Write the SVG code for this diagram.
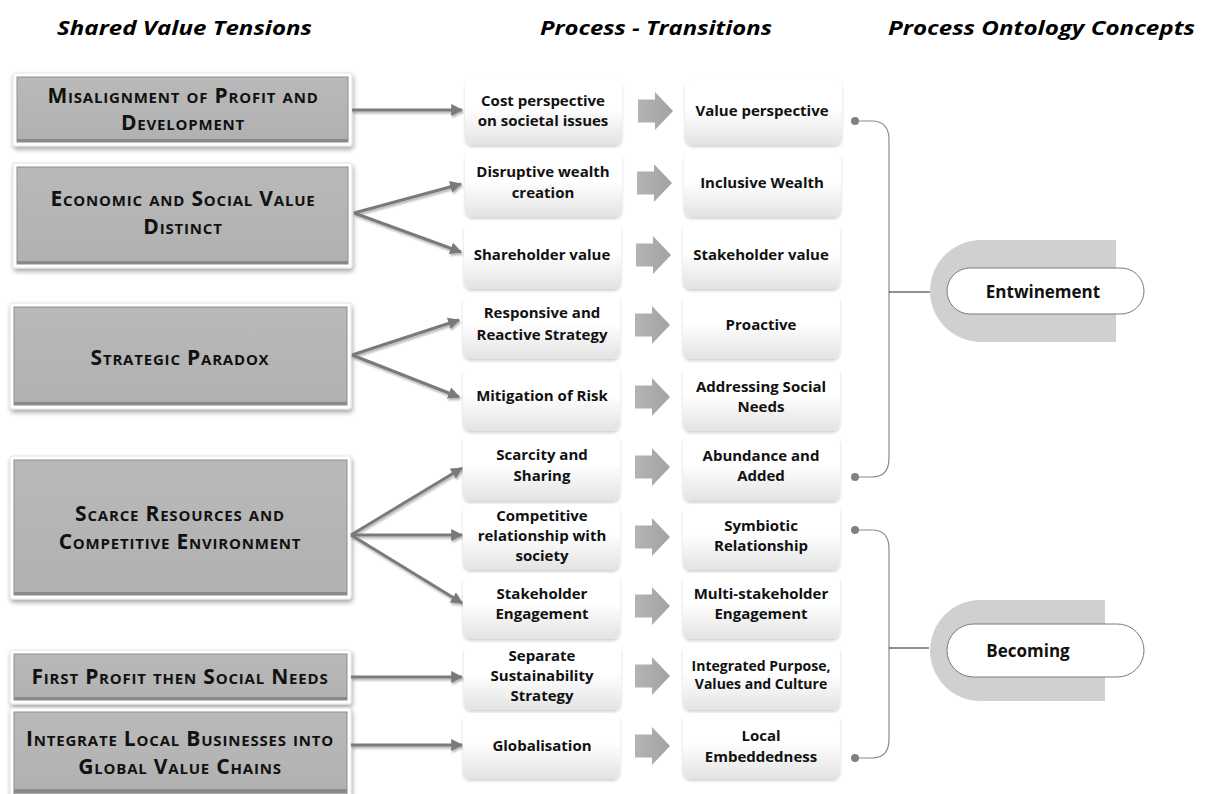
<svg xmlns="http://www.w3.org/2000/svg" width="1207" height="794" viewBox="0 0 1207 794">
  <defs>
    <filter id="boxShadow" x="-10%" y="-20%" width="120%" height="150%">
      <feGaussianBlur in="SourceAlpha" stdDeviation="2.5"/>
      <feOffset dx="1" dy="3" result="b"/>
      <feComponentTransfer><feFuncA type="linear" slope="0.35"/></feComponentTransfer>
      <feMerge><feMergeNode/><feMergeNode in="SourceGraphic"/></feMerge>
    </filter>
    <filter id="softShadow" x="-10%" y="-20%" width="120%" height="150%">
      <feGaussianBlur in="SourceAlpha" stdDeviation="1.5"/>
      <feOffset dx="0" dy="2" result="b"/>
      <feComponentTransfer><feFuncA type="linear" slope="0.18"/></feComponentTransfer>
      <feMerge><feMergeNode/><feMergeNode in="SourceGraphic"/></feMerge>
    </filter>
    <filter id="lineShadow" x="-10%" y="-50%" width="120%" height="200%">
      <feGaussianBlur in="SourceAlpha" stdDeviation="1.2"/>
      <feOffset dx="1" dy="2" result="b"/>
      <feComponentTransfer><feFuncA type="linear" slope="0.3"/></feComponentTransfer>
      <feMerge><feMergeNode/><feMergeNode in="SourceGraphic"/></feMerge>
    </filter>
    <linearGradient id="stepFill" x1="0" y1="0" x2="0" y2="1">
      <stop offset="0" stop-color="#ffffff"/>
      <stop offset="0.45" stop-color="#ffffff"/>
      <stop offset="1" stop-color="#e3e3e3"/>
    </linearGradient>
    <linearGradient id="tensionFill" x1="0" y1="0" x2="0" y2="1">
      <stop offset="0" stop-color="#b9b9b9"/>
      <stop offset="1" stop-color="#b1b1b1"/>
    </linearGradient>
    <linearGradient id="blockArrowFill" x1="0" y1="0" x2="1" y2="0">
      <stop offset="0" stop-color="#b4b4b4"/>
      <stop offset="1" stop-color="#a2a2a2"/>
    </linearGradient>
    <marker id="arrowHead" viewBox="0 0 10 10" refX="9" refY="5" markerWidth="4" markerHeight="4" orient="auto" markerUnits="strokeWidth">
      <path d="M0,0 L10,5 L0,10 z" fill="#7a7a7a"/>
    </marker>
    <path id="blockArrow" d="M0,-11.5 H17 V-19 L35,0 L17,19 V11.5 H0 Z" fill="url(#blockArrowFill)"/>
  </defs>
  <style>
    .hdr { font-family: "Open Sans", Lato, sans-serif; font-weight: bold; font-style: italic; font-size: 20px; fill: #000; }
    .tension-frame { fill: #ffffff; stroke: #e4e4e4; stroke-width: 1; }
    .tension-body { fill: url(#tensionFill); stroke: #8e8e8e; stroke-width: 1; }
    .tension-bevel { fill: #8a8a8a; }
    .tension-text { font-family: "Open Sans", Lato, sans-serif; font-weight: bold; font-size: 21px; letter-spacing: 0.8px; font-variant: small-caps; fill: #111; text-anchor: middle; }
    .step { fill: url(#stepFill); }
    .step-text { font-family: "Open Sans", Lato, sans-serif; font-weight: bold; font-size: 15px; fill: #111; text-anchor: middle; }
    .step-text.small { font-size: 14px; }
    .link { stroke: #7a7a7a; stroke-width: 3; fill: none; marker-end: url(#arrowHead); }
    .brace { stroke: #8a8a8a; stroke-width: 1.2; fill: none; }
    .tick { stroke: #222; stroke-width: 1.2; }
    .dot { fill: #808080; }
    .concept-back { fill: #d1d0d1; }
    .concept-pill { fill: #ffffff; stroke: #7a7a7a; stroke-width: 1; }
    .concept-text { font-family: "Open Sans", Lato, sans-serif; font-weight: bold; font-size: 17px; fill: #111; text-anchor: middle; }
  </style>

  <!-- column headings -->
  <g id="headings">
    <text class="hdr" x="57" y="35" textLength="255" lengthAdjust="spacingAndGlyphs">Shared Value Tensions</text>
    <text class="hdr" x="540" y="35" textLength="232" lengthAdjust="spacingAndGlyphs">Process - Transitions</text>
    <text class="hdr" x="888" y="35" textLength="307" lengthAdjust="spacingAndGlyphs">Process Ontology Concepts</text>
  </g>

  <!-- tension boxes -->
  <g id="tension-1" filter="url(#boxShadow)">
    <rect class="tension-frame" x="13" y="73" width="339" height="73" rx="2"/>
    <rect class="tension-body" x="17" y="77" width="331" height="65"/>
    <rect class="tension-bevel" x="17" y="139" width="331" height="3"/>
  </g>
  <g id="tension-1-label">
    <text class="tension-text" x="183" y="103">Misalignment of Profit and</text>
    <text class="tension-text" x="183" y="130">Development</text>
  </g>

  <g id="tension-2" filter="url(#boxShadow)">
    <rect class="tension-frame" x="13" y="163" width="339" height="105" rx="2"/>
    <rect class="tension-body" x="17" y="167" width="331" height="97"/>
    <rect class="tension-bevel" x="17" y="261" width="331" height="3"/>
  </g>
  <g id="tension-2-label">
    <text class="tension-text" x="183" y="206">Economic and Social Value</text>
    <text class="tension-text" x="183" y="234">Distinct</text>
  </g>

  <g id="tension-3" filter="url(#boxShadow)">
    <rect class="tension-frame" x="10" y="303" width="341" height="106" rx="2"/>
    <rect class="tension-body" x="14" y="307" width="333" height="98"/>
    <rect class="tension-bevel" x="14" y="402" width="333" height="3"/>
  </g>
  <g id="tension-3-label">
    <text class="tension-text" x="180" y="365">Strategic Paradox</text>
  </g>

  <g id="tension-4" filter="url(#boxShadow)">
    <rect class="tension-frame" x="10" y="456" width="341" height="143" rx="2"/>
    <rect class="tension-body" x="14" y="460" width="333" height="135"/>
    <rect class="tension-bevel" x="14" y="592" width="333" height="3"/>
  </g>
  <g id="tension-4-label">
    <text class="tension-text" x="180" y="521">Scarce Resources and</text>
    <text class="tension-text" x="180" y="549">Competitive  Environment</text>
  </g>

  <g id="tension-5" filter="url(#boxShadow)">
    <rect class="tension-frame" x="10" y="650" width="341" height="54" rx="2"/>
    <rect class="tension-body" x="14" y="654" width="333" height="46"/>
    <rect class="tension-bevel" x="14" y="697" width="333" height="3"/>
  </g>
  <g id="tension-5-label">
    <text class="tension-text" x="180" y="684">First Profit then Social Needs</text>
  </g>

  <g id="tension-6" filter="url(#boxShadow)">
    <rect class="tension-frame" x="10" y="708" width="341" height="92" rx="2"/>
    <rect class="tension-body" x="14" y="712" width="333" height="84"/>
    <rect class="tension-bevel" x="14" y="789" width="333" height="4"/>
  </g>
  <g id="tension-6-label">
    <text class="tension-text" x="180" y="746">Integrate Local Businesses into</text>
    <text class="tension-text" x="180" y="774">Global Value Chains</text>
  </g>

  <!-- connectors from tensions to transitions -->
  <g id="connectors" filter="url(#lineShadow)">
    <line class="link" x1="352" y1="110" x2="462" y2="110"/>
    <line class="link" x1="354" y1="213" x2="461" y2="184"/>
    <line class="link" x1="354" y1="213" x2="461" y2="252"/>
    <line class="link" x1="352" y1="355" x2="459" y2="320"/>
    <line class="link" x1="352" y1="355" x2="459" y2="397"/>
    <line class="link" x1="351" y1="535" x2="462" y2="468"/>
    <line class="link" x1="351" y1="535" x2="462" y2="535"/>
    <line class="link" x1="351" y1="535" x2="462" y2="603"/>
    <line class="link" x1="351" y1="677" x2="462" y2="677"/>
    <line class="link" x1="351" y1="745" x2="462" y2="745"/>
  </g>

  <!-- transition rows: from-state, block arrow, to-state -->
  <g id="row-1">
    <rect class="step" x="465" y="79" width="157" height="66" rx="8" filter="url(#softShadow)"/>
    <text class="step-text" x="543" y="106">Cost perspective</text>
    <text class="step-text" x="543" y="126">on societal issues</text>
    <use href="#blockArrow" x="638" y="111"/>
    <rect class="step" x="685" y="79" width="157" height="66" rx="8" filter="url(#softShadow)"/>
    <text class="step-text" x="762" y="116">Value perspective</text>
  </g>
  <g id="row-2">
    <rect class="step" x="465" y="151" width="157" height="66" rx="8" filter="url(#softShadow)"/>
    <text class="step-text" x="543" y="177">Disruptive wealth</text>
    <text class="step-text" x="543" y="198">creation</text>
    <use href="#blockArrow" x="637" y="183"/>
    <rect class="step" x="684" y="151" width="157" height="66" rx="8" filter="url(#softShadow)"/>
    <text class="step-text" x="762" y="188">Inclusive Wealth</text>
  </g>
  <g id="row-3">
    <rect class="step" x="464" y="223" width="157" height="66" rx="8" filter="url(#softShadow)"/>
    <text class="step-text" x="542" y="260">Shareholder value</text>
    <use href="#blockArrow" x="636" y="255"/>
    <rect class="step" x="683" y="223" width="157" height="66" rx="8" filter="url(#softShadow)"/>
    <text class="step-text" x="761" y="260">Stakeholder value</text>
  </g>
  <g id="row-4">
    <rect class="step" x="463" y="293" width="157" height="66" rx="8" filter="url(#softShadow)"/>
    <text class="step-text" x="542" y="318">Responsive and</text>
    <text class="step-text" x="542" y="340">Reactive Strategy</text>
    <use href="#blockArrow" x="635" y="325"/>
    <rect class="step" x="683" y="293" width="157" height="66" rx="8" filter="url(#softShadow)"/>
    <text class="step-text" x="761" y="330">Proactive</text>
  </g>
  <g id="row-5">
    <rect class="step" x="463" y="365" width="157" height="66" rx="8" filter="url(#softShadow)"/>
    <text class="step-text" x="542" y="401">Mitigation of Risk</text>
    <use href="#blockArrow" x="635" y="397"/>
    <rect class="step" x="683" y="365" width="157" height="66" rx="8" filter="url(#softShadow)"/>
    <text class="step-text" x="761" y="392">Addressing Social</text>
    <text class="step-text" x="761" y="412">Needs</text>
  </g>
  <g id="row-6">
    <rect class="step" x="463" y="435" width="157" height="66" rx="8" filter="url(#softShadow)"/>
    <text class="step-text" x="542" y="460">Scarcity and</text>
    <text class="step-text" x="542" y="481">Sharing</text>
    <use href="#blockArrow" x="635" y="467"/>
    <rect class="step" x="683" y="435" width="157" height="66" rx="8" filter="url(#softShadow)"/>
    <text class="step-text" x="761" y="461">Abundance and</text>
    <text class="step-text" x="761" y="481">Added</text>
  </g>
  <g id="row-7">
    <rect class="step" x="463" y="504" width="157" height="66" rx="8" filter="url(#softShadow)"/>
    <text class="step-text" x="542" y="521">Competitive</text>
    <text class="step-text" x="542" y="541">relationship with</text>
    <text class="step-text" x="542" y="561">society</text>
    <use href="#blockArrow" x="635" y="537"/>
    <rect class="step" x="683" y="504" width="157" height="66" rx="8" filter="url(#softShadow)"/>
    <text class="step-text" x="761" y="531">Symbiotic</text>
    <text class="step-text" x="761" y="551">Relationship</text>
  </g>
  <g id="row-8">
    <rect class="step" x="463" y="573" width="157" height="66" rx="8" filter="url(#softShadow)"/>
    <text class="step-text" x="542" y="599">Stakeholder</text>
    <text class="step-text" x="542" y="619">Engagement</text>
    <use href="#blockArrow" x="635" y="606"/>
    <rect class="step" x="683" y="573" width="157" height="66" rx="8" filter="url(#softShadow)"/>
    <text class="step-text" x="761" y="599">Multi-stakeholder</text>
    <text class="step-text" x="761" y="619">Engagement</text>
  </g>
  <g id="row-9">
    <rect class="step" x="464" y="644" width="157" height="66" rx="8" filter="url(#softShadow)"/>
    <text class="step-text" x="542" y="661">Separate</text>
    <text class="step-text" x="542" y="681">Sustainability</text>
    <text class="step-text" x="542" y="701">Strategy</text>
    <use href="#blockArrow" x="635" y="676"/>
    <rect class="step" x="683" y="644" width="157" height="66" rx="8" filter="url(#softShadow)"/>
    <text class="step-text small" x="761" y="671">Integrated Purpose,</text>
    <text class="step-text small" x="761" y="689">Values and Culture</text>
  </g>
  <g id="row-10">
    <rect class="step" x="463" y="713" width="157" height="66" rx="8" filter="url(#softShadow)"/>
    <text class="step-text" x="542" y="751">Globalisation</text>
    <use href="#blockArrow" x="635" y="746"/>
    <rect class="step" x="683" y="713" width="157" height="66" rx="8" filter="url(#softShadow)"/>
    <text class="step-text" x="761" y="741">Local</text>
    <text class="step-text" x="761" y="762">Embeddedness</text>
  </g>

  <!-- brackets grouping transitions into concepts -->
  <g id="brace-entwinement">
    <path class="brace" d="M855,121 H872 Q889,121 889,140 V458 Q889,477 872,477 H855"/>
    <circle class="dot" cx="855" cy="121" r="4"/>
    <circle class="dot" cx="855" cy="477" r="4"/>
    <line class="tick" x1="889" y1="292" x2="930" y2="292"/>
  </g>
  <g id="brace-becoming">
    <path class="brace" d="M855,530 H872 Q889,530 889,549 V739 Q889,758 872,758 H855"/>
    <circle class="dot" cx="855" cy="530" r="4"/>
    <circle class="dot" cx="855" cy="758" r="4"/>
    <line class="tick" x1="889" y1="648" x2="929" y2="648"/>
  </g>

  <!-- concept nodes -->
  <g id="concept-entwinement">
    <path class="concept-back" d="M1116,240 H981 A51,51 0 0 0 981,342 H1116 Z"/>
    <rect class="concept-pill" x="947" y="268" width="197" height="46" rx="23"/>
    <text class="concept-text" x="1043" y="298">Entwinement</text>
  </g>
  <g id="concept-becoming">
    <path class="concept-back" d="M1105,600 H980.5 A50.5,50.5 0 0 0 980.5,701 H1105 Z"/>
    <rect class="concept-pill" x="947" y="624" width="197" height="53" rx="26.5"/>
    <text class="concept-text" x="1028" y="657">Becoming</text>
  </g>
</svg>
